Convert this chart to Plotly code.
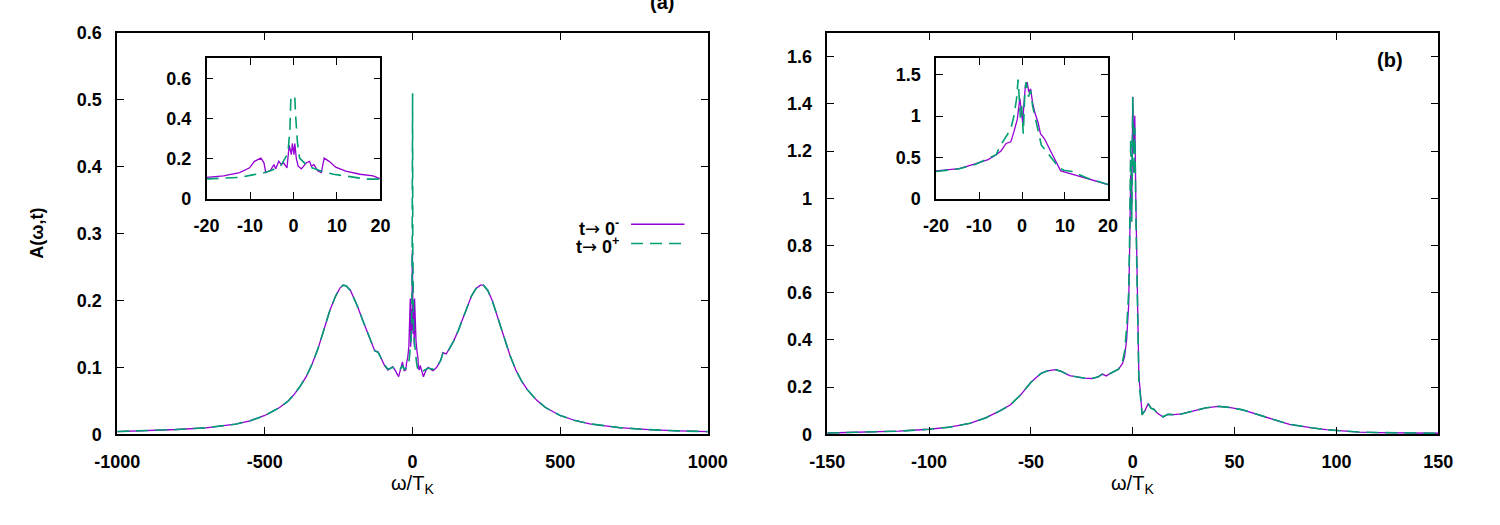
import plotly.graph_objects as go

# ---------------- data: panel (a) ----------------
a_neg_x = [-1000, -900, -800, -700, -600, -550, -500, -450, -420, -400, -380, -360, -340, -320, -300,
           -280, -260, -245, -235, -225, -210, -200, -185, -170, -155, -140, -128, -116, -105, -95,
           -83, -75, -67, -58, -47, -40, -34, -28, -23]
a_neg_solid = [0.004, 0.005, 0.007, 0.0095, 0.015, 0.02, 0.028, 0.04, 0.05, 0.06, 0.072, 0.086, 0.105, 0.128, 0.157,
               0.185, 0.207, 0.219, 0.223, 0.222, 0.215, 0.206, 0.19, 0.172, 0.155, 0.139, 0.125, 0.123, 0.113, 0.103,
               0.096, 0.098, 0.101, 0.095, 0.086, 0.098, 0.108, 0.095, 0.096]
a_neg_dash = [0.004, 0.005, 0.007, 0.0095, 0.015, 0.02, 0.028, 0.04, 0.05, 0.06, 0.072, 0.086, 0.105, 0.128, 0.157,
              0.185, 0.207, 0.219, 0.223, 0.222, 0.215, 0.206, 0.19, 0.172, 0.155, 0.139, 0.125, 0.122, 0.113, 0.104,
              0.097, 0.099, 0.1, 0.097, 0.095, 0.098, 0.103, 0.097, 0.098]

a_pos_x = [23, 26, 32, 37, 45, 53, 62, 70, 82, 95, 103, 114, 125, 140, 155, 170, 185, 200, 215, 230, 240,
           255, 270, 290, 310, 330, 350, 370, 390, 420, 450, 500, 550, 600, 700, 800, 900, 1000]
a_pos_solid = [0.096, 0.103, 0.095, 0.086, 0.095, 0.1, 0.097, 0.095, 0.1, 0.11, 0.122, 0.12, 0.128, 0.14, 0.155,
               0.173, 0.19, 0.207, 0.218, 0.223, 0.223, 0.215, 0.2, 0.172, 0.143, 0.118, 0.096, 0.079, 0.066,
               0.051, 0.04, 0.028, 0.0205, 0.0156, 0.0099, 0.0068, 0.005, 0.0038]
a_pos_dash = [0.098, 0.1, 0.097, 0.095, 0.097, 0.099, 0.098, 0.097, 0.101, 0.11, 0.121, 0.12, 0.128, 0.14, 0.155,
              0.173, 0.19, 0.207, 0.218, 0.223, 0.223, 0.215, 0.2, 0.172, 0.143, 0.118, 0.096, 0.079, 0.066,
              0.051, 0.04, 0.028, 0.0205, 0.0156, 0.0099, 0.0068, 0.005, 0.0038]

# central region (also shown in inset a)
ain_solid_x = [-20, -16.1, -12.4, -10.1, -9.0, -7.5, -6.8, -6.4, -5.3, -4.5, -4.1, -3.4, -2.8, -2.3, -1.5,
               -1.0, -0.5, -0.27, 0.1, 0.3, 0.65, 1.07, 1.8, 2.96, 3.7, 4.1, 4.7, 5.6, 6.4, 7.05, 8.2, 9.7,
               12, 15.3, 18.3, 20]
ain_solid_y = [0.107, 0.115, 0.131, 0.155, 0.187, 0.203, 0.18, 0.131, 0.143, 0.171, 0.15, 0.187, 0.171, 0.18, 0.155,
               0.267, 0.22, 0.276, 0.22, 0.276, 0.2, 0.163, 0.15, 0.18, 0.187, 0.163, 0.171, 0.139, 0.131, 0.203,
               0.187, 0.158, 0.139, 0.123, 0.115, 0.1]
ain_dash_x = [-20, -16.1, -12.4, -9.4, -7.2, -5.3, -4.2, -3.0, -1.5, -1.2, -0.83, -0.6, 0.3, 0.45, 0.9, 1.4,
              3.3, 6.3, 9.2, 13.7, 16.7, 20]
ain_dash_y = [0.1, 0.103, 0.107, 0.12, 0.128, 0.14, 0.15, 0.163, 0.219, 0.251, 0.347, 0.507, 0.51, 0.427, 0.283,
              0.203, 0.163, 0.139, 0.123, 0.107, 0.099, 0.099]

# ---------------- data: panel (b) ----------------
b_x = [-150, -130, -115, -100, -90, -80, -72, -65, -60, -55, -50, -45, -42, -38, -35, -31, -28, -24, -20, -17,
       -15, -13, -11, -9, -7, -5, -4, -3, -2, -1.5, -1, -0.5, 0, 0.5, 1, 1.5, 2, 2.5, 3, 4, 4.6, 6, 7.6, 9,
       10.3, 12, 14.9, 17.2, 20, 24, 30.9, 36, 42, 48, 54, 60, 65, 70, 77, 83, 88, 95, 100, 111, 120, 130,
       140, 150]
b_solid = [0.005, 0.008, 0.013, 0.021, 0.03, 0.046, 0.07, 0.1, 0.125, 0.167, 0.22, 0.258, 0.268, 0.274, 0.266,
           0.248, 0.243, 0.238, 0.236, 0.243, 0.255, 0.247, 0.258, 0.265, 0.275, 0.3, 0.33, 0.4, 0.55, 0.8, 1.1,
           0.95, 1.43, 1.2, 1.35, 1.0, 0.7, 0.4, 0.25, 0.15, 0.084, 0.1, 0.13, 0.11, 0.107, 0.09, 0.073, 0.084,
           0.083, 0.086, 0.1, 0.112, 0.118, 0.113, 0.103, 0.088, 0.073, 0.06, 0.042, 0.033, 0.027, 0.019, 0.015,
           0.009, 0.007, 0.006, 0.005, 0.004]
b_dash = [0.005, 0.008, 0.013, 0.021, 0.03, 0.046, 0.07, 0.1, 0.125, 0.167, 0.22, 0.258, 0.268, 0.274, 0.266,
          0.248, 0.243, 0.238, 0.236, 0.243, 0.254, 0.248, 0.257, 0.266, 0.276, 0.31, 0.35, 0.45, 0.6, 0.85, 1.25,
          0.9, 1.43, 1.1, 1.3, 0.95, 0.65, 0.38, 0.23, 0.14, 0.082, 0.1, 0.128, 0.11, 0.106, 0.09, 0.074, 0.084,
          0.083, 0.086, 0.1, 0.112, 0.118, 0.113, 0.103, 0.088, 0.073, 0.06, 0.042, 0.033, 0.027, 0.019, 0.015,
          0.009, 0.007, 0.006, 0.005, 0.004]

# inset (b)
bin_solid_x = [-20, -14.6, -10.9, -7.9, -6.0, -4.9, -3.7, -2.6, -1.9, -1.1, -0.5, -0.2, 0.15, 0.52, 0.82, 1.2,
               1.57, 2.0, 2.47, 3.0, 3.75, 4.3, 5.2, 6.7, 9.0, 11.6, 15.4, 20]
bin_solid_y = [0.339, 0.366, 0.425, 0.475, 0.534, 0.58, 0.67, 0.69, 0.81, 0.96, 1.215, 1.04, 0.92, 1.196, 1.39,
               1.41, 1.29, 1.33, 1.157, 1.04, 0.92, 0.787, 0.73, 0.573, 0.339, 0.3, 0.242, 0.175]
bin_dash_x = [-20, -14.6, -10.9, -7.9, -6.0, -5.2, -3.7, -2.6, -1.9, -1.3, -0.9, -0.67, -0.37, -0.07, 0.3, 0.67,
              0.97, 1.5, 2.0, 2.47, 3.0, 3.75, 4.5, 5.6, 7.1, 8.6, 9.7, 11.6, 15.4, 20]
bin_dash_y = [0.331, 0.366, 0.417, 0.483, 0.534, 0.63, 0.75, 0.845, 1.0, 1.196, 1.44, 1.196, 0.98, 1.12, 0.787,
              1.31, 1.41, 1.235, 1.31, 1.12, 1.0, 0.806, 0.65, 0.58, 0.475, 0.378, 0.347, 0.331, 0.249, 0.175]

# tick values / labels
a_xticks = [-1000, -500, 0, 500, 1000]
a_yticks = [0, 0.1, 0.2, 0.3, 0.4, 0.5, 0.6]
ain_xticks = [-20, -10, 0, 10, 20]
ain_yticks = [0, 0.2, 0.4, 0.6]
b_xticks = [-150, -100, -50, 0, 50, 100, 150]
b_yticks = [0, 0.2, 0.4, 0.6, 0.8, 1.0, 1.2, 1.4, 1.6]
bin_xticks = [-20, -10, 0, 10, 20]
bin_yticks = [0, 0.5, 1.0, 1.5]

# ---------------- styling ----------------
W, H = 1500, 525
PURPLE = "#9400D3"
GREEN = "#009E73"
DASH = "12px,7px"
FONT = "Liberation Sans"


def px(x):
    return x / W


def py(y):
    return 1 - y / H


def lab(v):
    return "%g" % v


fig = go.Figure()

a_x = a_neg_x + ain_solid_x + a_pos_x
a_s = a_neg_solid + ain_solid_y + a_pos_solid
a_dx = a_neg_x + ain_dash_x + a_pos_x
a_d = a_neg_dash + ain_dash_y + a_pos_dash

solid_line = dict(color=PURPLE, width=1.3)
dash_line = dict(color=GREEN, width=1.6, dash=DASH)

fig.add_trace(go.Scatter(x=a_x, y=a_s, mode="lines", line=solid_line, xaxis="x", yaxis="y", showlegend=False))
fig.add_trace(go.Scatter(x=a_dx, y=a_d, mode="lines", line=dash_line, xaxis="x", yaxis="y", showlegend=False))
fig.add_trace(go.Scatter(x=ain_solid_x, y=ain_solid_y, mode="lines", line=solid_line, xaxis="x2", yaxis="y2", showlegend=False))
fig.add_trace(go.Scatter(x=ain_dash_x, y=ain_dash_y, mode="lines", line=dash_line, xaxis="x2", yaxis="y2", showlegend=False))
fig.add_trace(go.Scatter(x=b_x, y=b_solid, mode="lines", line=solid_line, xaxis="x3", yaxis="y3", showlegend=False))
fig.add_trace(go.Scatter(x=b_x, y=b_dash, mode="lines", line=dash_line, xaxis="x3", yaxis="y3", showlegend=False))
fig.add_trace(go.Scatter(x=bin_solid_x, y=bin_solid_y, mode="lines", line=solid_line, xaxis="x4", yaxis="y4", showlegend=False))
fig.add_trace(go.Scatter(x=bin_dash_x, y=bin_dash_y, mode="lines", line=dash_line, xaxis="x4", yaxis="y4", showlegend=False))

tickfont = dict(family=FONT, size=18, color="black", weight="bold")


def ax(domain, rng, ticks, anchor, standoff=10):
    return dict(domain=domain, range=rng, tickmode="array", tickvals=ticks, ticktext=[lab(t) for t in ticks],
                anchor=anchor, showline=True, linecolor="black", linewidth=1.5, mirror="ticks",
                ticks="inside", ticklen=7, tickwidth=1.2, tickcolor="black",
                showgrid=False, zeroline=False, tickfont=tickfont, ticklabelstandoff=standoff)


main_y = [py(441), py(24)]
inset_y = [py(196.5), py(50)]

fig.update_layout(
    width=W, height=H, margin=dict(l=0, r=0, t=0, b=0),
    paper_bgcolor="white", plot_bgcolor="rgba(0,0,0,0)",
    xaxis=ax([px(97), px(705)], [-1000, 1000], a_xticks, "y"),
    yaxis=ax(main_y, [0, 0.6], a_yticks, "x"),
    xaxis2=ax([px(189), px(368)], [-20, 20], ain_xticks, "y2"),
    yaxis2=ax(inset_y, [0, 0.7], ain_yticks, "x2"),
    xaxis3=ax([px(828), px(1457)], [-150, 150], b_xticks, "y3"),
    yaxis3=ax(main_y, [0, 1.7], b_yticks, "x3"),
    xaxis4=ax([px(940), px(1117)], [-20, 20], bin_xticks, "y4"),
    yaxis4=ax(inset_y, [0, 1.7], bin_yticks, "x4"),
)

bold = dict(family=FONT, size=18, color="black", weight="bold")
ARROW = "<span style='font-family:DejaVu Sans;font-weight:normal'>→</span>"
annos = [
    dict(text="(a)", x=px(658), y=py(-8), font=dict(family=FONT, size=20, color="black", weight="bold")),
    dict(text="(b)", x=px(1407), y=py(52), font=dict(family=FONT, size=20, color="black", weight="bold")),
    dict(text="A(ω,t)", x=px(15), y=py(232), textangle=-90, font=bold),
    dict(text="ω/T<sub>K</sub>", x=px(401), y=py(493), font=dict(family=FONT, size=20, color="black")),
    dict(text="ω/T<sub>K</sub>", x=px(1142), y=py(493), font=dict(family=FONT, size=20, color="black")),
    dict(text="t" + ARROW + " 0<sup>-</sup>", x=px(616), y=py(226), xanchor="right", font=bold),
    dict(text="t" + ARROW + " 0<sup>+</sup>", x=px(616), y=py(245), xanchor="right", font=bold),
]
for a in annos:
    a.setdefault("xanchor", "center")
    fig.add_annotation(xref="paper", yref="paper", showarrow=False, yanchor="middle", **a)

fig.add_shape(type="line", xref="paper", yref="paper", x0=px(626), x1=px(681), y0=py(222.7), y1=py(222.7),
              line=dict(color=PURPLE, width=1.5))
fig.add_shape(type="line", xref="paper", yref="paper", x0=px(626), x1=px(681), y0=py(242.7), y1=py(242.7),
              line=dict(color=GREEN, width=1.6, dash=DASH))

fig.write_html("out.html")
